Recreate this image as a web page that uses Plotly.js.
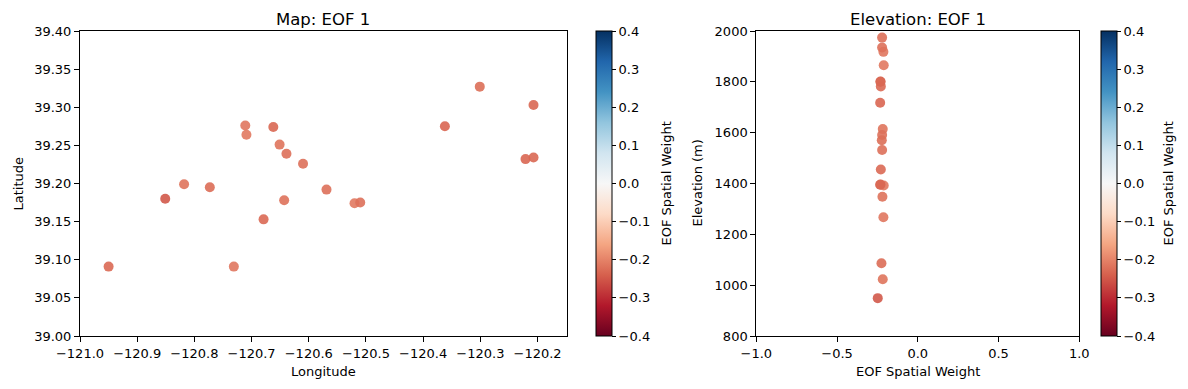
<!DOCTYPE html>
<html>
<head>
<meta charset="utf-8">
<script src="https://cdn.plot.ly/plotly-3.0.1.min.js"></script>
<style>html,body{margin:0;padding:0;background:#fff;}#chart{width:1188px;height:389px;}</style>
</head>
<body>
<div id="chart"></div>
<script>
// Station data
const longitude = [-120.950, -120.851, -120.818, -120.773, -120.731, -120.711, -120.709, -120.679, -120.662, -120.651, -120.643,
                   -120.639, -120.610, -120.569, -120.520, -120.510, -120.362, -120.301, -120.207, -120.221, -120.207];
const latitude  = [39.091, 39.180, 39.199, 39.195, 39.091, 39.276, 39.264, 39.153, 39.274, 39.251, 39.178,
                   39.239, 39.226, 39.192, 39.174, 39.175, 39.275, 39.327, 39.303, 39.232, 39.234];
const elevation = [1782, 949, 1614, 1086, 1918, 1267, 1865, 1455, 1801, 1023, 1348,
                   1974, 1935, 1591, 1392, 1532, 1718, 1570, 1800, 1395, 1396];
const eofWeight = [-0.229, -0.248, -0.217, -0.225, -0.213, -0.213, -0.211, -0.229, -0.231, -0.217, -0.219,
                   -0.221, -0.221, -0.221, -0.211, -0.221, -0.233, -0.223, -0.231, -0.233, -0.231];
const cbTicks = [-0.4, -0.3, -0.2, -0.1, 0.0, 0.1, 0.2, 0.3, 0.4];

const rdbu = ['#67001f','#b2182b','#d6604d','#f4a582','#fddbc7','#f7f7f7','#d1e5f0','#92c5de','#4393c3','#2166ac','#053061'];
const colorscale = rdbu.map((c, i) => [i / (rdbu.length - 1), c]);

const FONT = 'DejaVu Sans, sans-serif';
const W = 1188, H = 389;
const yTop = 1 - 31 / H, yBot = 1 - 336 / H;
const txt = {family: FONT, size: 13, color: '#000'};

function cbar(xpx) {
  return {
    x: xpx / W, xanchor: 'left', xref: 'paper',
    y: yBot, yanchor: 'bottom', len: yTop - yBot, lenmode: 'fraction',
    thickness: 16, thicknessmode: 'pixels',
    outlinecolor: '#000', outlinewidth: 1,
    ticks: 'outside', ticklen: 4, tickwidth: 1, tickcolor: '#000',
    tickvals: cbTicks, tickformat: '.1f',
    tickfont: txt,
    xpad: 0, ypad: 0
  };
}

const traces = [
  {
    type: 'scatter', mode: 'markers', x: longitude, y: latitude, xaxis: 'x', yaxis: 'y',
    marker: {size: 10, color: eofWeight, colorscale: colorscale, cmin: -0.4, cmax: 0.4, opacity: 0.9,
             showscale: true, colorbar: cbar(596), line: {width: 0}},
    hoverinfo: 'x+y'
  },
  {
    type: 'scatter', mode: 'markers', x: eofWeight, y: elevation, xaxis: 'x2', yaxis: 'y2',
    marker: {size: 10, color: eofWeight, colorscale: colorscale, cmin: -0.4, cmax: 0.4, opacity: 0.9,
             showscale: true, colorbar: cbar(1101), line: {width: 0}},
    hoverinfo: 'x+y'
  }
];

const axBase = {
  showgrid: false, zeroline: false, showline: true, linecolor: '#000', linewidth: 1, mirror: true,
  ticks: 'outside', ticklen: 5, tickwidth: 1, tickcolor: '#000',
  tickfont: txt
};

function ann(text, xpx, ypx, angle, size) {
  return {text: text, xref: 'paper', yref: 'paper', x: xpx / W, y: 1 - ypx / H,
          xanchor: 'center', yanchor: 'middle', textangle: angle || 0, showarrow: false,
          font: {family: FONT, size: size || 13, color: '#000'}};
}

const layout = {
  width: W, height: H,
  margin: {l: 0, r: 0, t: 0, b: 0},
  paper_bgcolor: '#fff', plot_bgcolor: '#fff',
  showlegend: false,
  font: {family: FONT, color: '#000'},
  xaxis: Object.assign({}, axBase, {
    domain: [80 / W, 566.7 / W], range: [-121.0, -120.149], anchor: 'y',
    tickvals: [-121.0, -120.9, -120.8, -120.7, -120.6, -120.5, -120.4, -120.3, -120.2], tickformat: '.1f'
  }),
  yaxis: Object.assign({}, axBase, {
    domain: [yBot, yTop], range: [39.0, 39.4], anchor: 'x',
    tickvals: [39.0, 39.05, 39.1, 39.15, 39.2, 39.25, 39.3, 39.35, 39.4], tickformat: '.2f'
  }),
  xaxis2: Object.assign({}, axBase, {
    domain: [756.3 / W, 1079.3 / W], range: [-1, 1], anchor: 'y2',
    tickvals: [-1, -0.5, 0, 0.5, 1], tickformat: '.1f'
  }),
  yaxis2: Object.assign({}, axBase, {
    domain: [yBot, yTop], range: [800, 2000], anchor: 'x2',
    tickvals: [800, 1000, 1200, 1400, 1600, 1800, 2000]
  }),
  annotations: [
    ann('Map: EOF 1', 323.3, 20, 0, 16.5),
    ann('Elevation: EOF 1', 917.8, 20, 0, 16.5),
    ann('Longitude', 323.3, 371, 0),
    ann('EOF Spatial Weight', 917.8, 371, 0),
    ann('Latitude', 18, 183.5, -90),
    ann('Elevation (m)', 697, 183.5, -90),
    ann('EOF Spatial Weight', 666, 183.5, -90),
    ann('EOF Spatial Weight', 1168, 183.5, -90)
  ]
};

Plotly.newPlot('chart', traces, layout, {displayModeBar: false, staticPlot: true});
</script>
</body>
</html>
